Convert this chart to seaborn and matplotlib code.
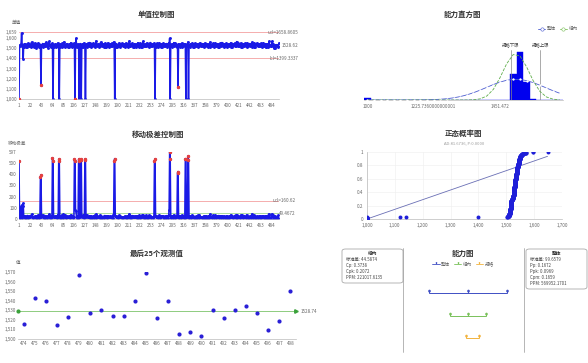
import numpy as np
import matplotlib
matplotlib.use("Agg")
import matplotlib.pyplot as plt
import seaborn as sns
from math import erf, sqrt
from matplotlib.path import Path
from matplotlib.patches import FancyBboxPatch
from matplotlib.lines import Line2D
from matplotlib.ticker import FuncFormatter

# ---- data ----
obs_values = [
    1000, 1519, 1534, 1527, 1541, 1648, 1525, 1512, 1397, 1536, 1516, 1544, 1531, 1508, 1528, 1539, 1516, 1547, 1530, 1518,
    1543, 1526, 1511, 1535, 1559, 1517, 1538, 1529, 1514, 1533, 1549, 1524, 1506, 1532, 1540, 1518, 1527, 1552, 1515, 1537,
    1529, 1515, 1141, 1534, 1518, 1545, 1510, 1530, 1538, 1517, 1526, 1556, 1533, 1519, 1541, 1528, 1504, 1535, 1566, 1524,
    1531, 1513, 1539, 1527, 1546, 1000, 1516, 1534, 1518, 1543, 1529, 1509, 1537, 1525, 1551, 1517, 1532, 1000, 1516, 1540,
    1527, 1535, 1512, 1548, 1530, 1518, 1562, 1526, 1507, 1539, 1533, 1518, 1544, 1529, 1515, 1536, 1514, 1541, 1528, 1553,
    1517, 1534, 1511, 1538, 1525, 1547, 1531, 1000, 1516, 1596, 1529, 1516, 1540, 1527, 1534, 1000, 1519, 1545, 1530, 1000,
    1536, 1515, 1541, 1515, 1550, 1528, 1533, 1000, 1524, 1539, 1510, 1546, 1532, 1518, 1537, 1555, 1526, 1513, 1542, 1529,
    1518, 1535, 1549, 1524, 1531, 1507, 1540, 1570, 1527, 1533, 1517, 1544, 1529, 1514, 1538, 1525, 1558, 1532, 1519, 1536,
    1542, 1528, 1511, 1534, 1547, 1516, 1530, 1516, 1539, 1526, 1552, 1535, 1509, 1527, 1543, 1517, 1531, 1548, 1524, 1537,
    1529, 1561, 1517, 1000, 1538, 1515, 1545, 1530, 1512, 1534, 1526, 1550, 1518, 1540, 1515, 1532, 1546, 1527, 1519, 1536,
    1541, 1525, 1508, 1533, 1549, 1528, 1517, 1543, 1531, 1514, 1537, 1572, 1526, 1518, 1539, 1530, 1547, 1516, 1535, 1511,
    1529, 1544, 1517, 1533, 1516, 1540, 1527, 1553, 1524, 1531, 1513, 1546, 1535, 1516, 1538, 1509, 1528, 1567, 1532, 1519,
    1542, 1526, 1534, 1517, 1550, 1529, 1518, 1537, 1544, 1512, 1530, 1555, 1524, 1536, 1519, 1541, 1527, 1533, 1548, 1517,
    1000, 1535, 1515, 1546, 1529, 1514, 1539, 1531, 1552, 1518, 1527, 1543, 1516, 1536, 1510, 1534, 1548, 1525, 1530, 1540,
    1517, 1532, 1545, 1515, 1538, 1528, 1551, 1519, 1597, 1000, 1534, 1526, 1542, 1513, 1537, 1529, 1554, 1518, 1533, 1546,
    1524, 1539, 1516, 1531, 1120, 1543, 1528, 1535, 1511, 1540, 1527, 1549, 1516, 1534, 1518, 1545, 1530, 1525, 1538, 1000,
    1533, 1517, 1544, 1561, 1000, 1529, 1536, 1514, 1541, 1527, 1532, 1550, 1515, 1538, 1516, 1534, 1547, 1526, 1519, 1542,
    1530, 1537, 1512, 1545, 1528, 1518, 1553, 1533, 1518, 1539, 1526, 1544, 1531, 1509, 1536, 1549, 1524, 1532, 1541, 1517,
    1538, 1527, 1515, 1543, 1530, 1558, 1516, 1535, 1517, 1540, 1529, 1546, 1513, 1533, 1525, 1551, 1517, 1537, 1528, 1544,
    1515, 1536, 1510, 1541, 1532, 1548, 1519, 1530, 1555, 1526, 1534, 1516, 1543, 1529, 1518, 1539, 1547, 1524, 1512, 1535,
    1540, 1527, 1519, 1545, 1531, 1553, 1516, 1536, 1514, 1542, 1528, 1533, 1549, 1518, 1537, 1525, 1564, 1530, 1518, 1546,
    1532, 1517, 1539, 1527, 1550, 1515, 1535, 1511, 1544, 1529, 1536, 1517, 1547, 1526, 1533, 1515, 1552, 1531, 1524, 1540,
    1528, 1545, 1519, 1537, 1530, 1557, 1513, 1534, 1541, 1516, 1548, 1527, 1516, 1539, 1532, 1550, 1525, 1536, 1518, 1543,
    1529, 1518, 1546, 1534, 1512, 1540, 1526, 1553, 1530, 1517, 1538, 1544, 1515,
]
last25_values = [1515.6, 1543.0, 1540.0, 1515.0, 1523.0, 1567.0, 1527.0, 1530.0, 1524.0, 1524.0,
                 1540.0, 1569.0, 1522.0, 1540.0, 1505.5, 1507.6, 1503.5, 1530.0, 1522.0, 1530.0,
                 1535.0, 1527.0, 1509.7, 1518.7, 1550.0]
last25_labels = [str(i) for i in range(474, 499)]
red_points = [1, 43, 108, 305]

i_ucl, i_cl, i_lcl = 1658.8605, 1528.62, 1399.3337
i_top_label = "1,659"
mr_ucl, mr_cl = 160.62, 49.4672

hist_start, hist_width, hist_bins = 1000.0, 22.5736, 30
hist_tick_labels = ["1000", "1225.7360000000001", "1451.472"]
lsl, usl = 1500.0, 1600.0
sigma_within, sigma_overall = 44.5874, 99.6579
ad_text = "AD:81.6736, P:0.0000"

within_lines = ["标准差: 44.5874", "Cp: 0.3738", "Cpk: 0.2072", "PPM: 221017.6135"]
overall_lines = ["标准差: 99.6579", "Pp: 0.1672", "Ppk: 0.0969", "Cpm: 0.1659", "PPM: 569952.1701"]

# ---- setup ----
sns.set_theme(style="white")
plt.rcParams['font.family'] = ['Noto Sans CJK SC', 'DejaVu Sans']

W, H = 588, 363
fig = plt.figure(figsize=(W / 100, H / 100), dpi=100)

BLUE = '#1a1ae6'
RED = '#e8413c'
GREY = '#666666'
TICK = 3.3


def px_axes(x0, y0, x1, y1):
    return fig.add_axes([x0 / W, 1 - y1 / H, (x1 - x0) / W, (y1 - y0) / H])


def ftext(x, y, s, **kw):
    kw.setdefault('fontsize', TICK)
    kw.setdefault('color', GREY)
    kw.setdefault('ha', 'center')
    kw.setdefault('va', 'center')
    return fig.text(x / W, 1 - y / H, s, **kw)


def title(x, y, s):
    ftext(x, y, s, fontsize=5.4, color='#333333', fontweight='bold')


def echarts_style(ax, left_line=False):
    for s in ['top', 'right']:
        ax.spines[s].set_visible(False)
    ax.spines['left'].set_visible(left_line)
    for s in ['bottom', 'left']:
        ax.spines[s].set_color('#bbbbbb')
        ax.spines[s].set_linewidth(0.5)
    ax.tick_params(labelsize=TICK, colors=GREY, length=1.2, width=0.4, pad=1.5)
    ax.tick_params(axis='y', length=0 if not left_line else 1.2)
    ax.set_xlabel('')
    ax.set_ylabel('')
    ax.set_facecolor('none')


thousands = FuncFormatter(lambda v, p: f"{v:,.0f}")

individual = np.array(obs_values + last25_values, dtype=float)
n_total = len(individual)
index = np.arange(1, n_total + 1)
mr = np.abs(np.diff(individual))
mr_index = index[:-1]
cat_ticks = list(range(1, 485, 21))

# ---- 1. 单值控制图 ----
ax1 = px_axes(19, 32, 279, 99)
ax1.axhline(i_ucl, color='#f4a0a0', lw=0.6)
ax1.axhline(i_lcl, color='#f4a0a0', lw=0.6)
ax1.axhline(i_cl, color='#9fd58f', lw=0.6)
sns.lineplot(x=index, y=individual, ax=ax1, color=BLUE, lw=1.15, marker='o',
             markersize=2.1, markeredgewidth=0, sort=False, estimator=None)
red_idx = np.array(red_points)
sns.scatterplot(x=red_idx, y=individual[red_idx - 1], ax=ax1, color=RED, s=6, linewidth=0, zorder=5)
ax1.set_xlim(1, n_total)
ax1.set_ylim(1000, i_ucl)
ax1.set_xticks(cat_ticks)
ax1.set_yticks([1000, 1100, 1200, 1300, 1400, 1500, 1600, i_ucl])
ax1.set_yticklabels(["1,000", "1,100", "1,200", "1,300", "1,400", "1,500", "1,600", i_top_label])
echarts_style(ax1)
for val, lab in [(i_ucl, f"ucl={i_ucl}"), (i_cl, f"{i_cl}"), (i_lcl, f"lcl={i_lcl}")]:
    ax1.annotate(lab, xy=(1, val), xycoords=('axes fraction', 'data'), xytext=(14, 0),
                 textcoords='offset points', fontsize=TICK, color=GREY, ha='right', va='center',
                 annotation_clip=False)
title(156, 14, "单值控制图")
ftext(16, 23, "单值")

# ---- 3. 移动极差控制图 ----
ax3 = px_axes(19, 152, 279, 219)
ax3.axhline(mr_ucl, color='#f4a0a0', lw=0.6)
ax3.axhline(mr_cl, color='#9fd58f', lw=0.6)
sns.lineplot(x=mr_index, y=mr, ax=ax3, color=BLUE, lw=1.15, marker='o',
             markersize=2.1, markeredgewidth=0, sort=False, estimator=None)
hi = mr > mr_ucl
sns.scatterplot(x=mr_index[hi], y=mr[hi], ax=ax3, color=RED, s=6, linewidth=0, zorder=5)
ax3.set_xlim(1, n_total)
mr_max = mr.max()
ax3.set_ylim(0, mr_max)
ax3.set_xticks(cat_ticks)
ax3.set_yticks([0, 100, 200, 300, 400, 500, mr_max])
ax3.set_yticklabels(["0", "100", "200", "300", "400", "500", f"{mr_max:.0f}"])
echarts_style(ax3)
for val, lab in [(mr_ucl, f"ucl={mr_ucl}"), (mr_cl, f"{mr_cl}")]:
    ax3.annotate(lab, xy=(1, val), xycoords=('axes fraction', 'data'), xytext=(12, 0),
                 textcoords='offset points', fontsize=TICK, color=GREY, ha='right', va='center',
                 annotation_clip=False)
title(158, 134, "移动极差控制图")
ftext(17, 143, "移动极差")

# ---- 5. 最后25个观测值 ----
ax5 = px_axes(18, 272, 296, 339)
pos = np.arange(len(last25_values))
avg25 = float(np.mean(last25_values))
ax5.plot([-0.5, len(pos) - 0.5], [avg25, avg25], color='#7cc46a', lw=0.6)
ax5.plot([-0.5], [avg25], marker='o', color='#3aa13a', markersize=2, clip_on=False)
ax5.plot([len(pos) - 0.5], [avg25], marker='>', color='#3aa13a', markersize=2.5, clip_on=False)
sns.scatterplot(x=pos, y=last25_values, ax=ax5, color='#2a1fd6', s=9, linewidth=0, zorder=5)
ax5.set_xlim(-0.5, len(pos) - 0.5)
ax5.set_ylim(1500, 1570)
ax5.set_yticks(range(1500, 1571, 10))
ax5.yaxis.set_major_formatter(thousands)
ax5.set_xticks(pos)
ax5.set_xticklabels(last25_labels)
ax5.set_xticks(np.arange(-0.5, len(pos)), minor=True)
echarts_style(ax5)
ax5.tick_params(axis='x', which='major', length=0)
ax5.tick_params(axis='x', which='minor', length=1.2, width=0.4, colors='#bbbbbb')
ax5.annotate(f"{avg25:.2f}", xy=(1, avg25), xycoords=('axes fraction', 'data'), xytext=(3, 0),
             textcoords='offset points', fontsize=TICK, color=GREY, ha='left', va='center',
             annotation_clip=False)
title(157, 253, "最后25个观测值")
ftext(18, 263, "值")

# ---- 2. 能力直方图 ----
ax2 = px_axes(364, 50, 563, 100)
edges = hist_start + hist_width * np.arange(hist_bins + 1)
sns.histplot(x=individual, bins=edges, ax=ax2, color='#0000ee', edgecolor='#0000ee',
             alpha=1, linewidth=0.3)
counts, _ = np.histogram(individual, bins=edges)
ax2.set_ylim(0, counts.max() * 1.05)
ax2.set_xlim(edges[0], edges[-1])
centers = (edges[:-1] + edges[1:]) / 2
mean_all = individual.mean()
ax2b = ax2.twinx()


def normal_pdf(x, mu, sd):
    return np.exp(-0.5 * ((x - mu) / sd) ** 2) / (sd * sqrt(2 * np.pi))


pdf_overall = normal_pdf(centers, mean_all, sigma_overall)
pdf_within = normal_pdf(centers, mean_all, sigma_within)
sns.lineplot(x=centers, y=pdf_overall, ax=ax2b, color='#4a5bd0', lw=0.6, marker='o',
             markersize=1.3, markerfacecolor='white', markeredgewidth=0.3)
sns.lineplot(x=centers, y=pdf_within, ax=ax2b, color='#5fae4a', lw=0.6, linestyle='--')
ax2b.set_ylim(0, pdf_within.max() * 1.1)
ax2b.axis('off')
for val, lab in [(lsl, "规格下限"), (usl, "规格上限")]:
    ax2.axvline(val, color='#888888', lw=0.5)
    ax2.annotate(lab, xy=(val, 1), xycoords=('data', 'axes fraction'), xytext=(0, 2),
                 textcoords='offset points', fontsize=3.2, color='#444444', ha='center', va='bottom',
                 annotation_clip=False)
ax2.set_xticks(edges[[0, 10, 20]] + hist_width / 2)
ax2.set_xticklabels(hist_tick_labels)
ax2.set_yticks([])
echarts_style(ax2)
title(462, 14, "能力直方图")
leg_handles = [Line2D([], [], color='#4a5bd0', lw=0.6, marker='o', markersize=2.4,
                      markerfacecolor='white', markeredgewidth=0.4),
               Line2D([], [], color='#7bbf5a', lw=0.6, marker='o', markersize=2.4,
                      markerfacecolor='white', markeredgewidth=0.4)]
fig.legend(leg_handles, ["整体", "组内"], loc='center left', bbox_to_anchor=(534 / W, 1 - 29 / H),
           ncol=2, frameon=False, fontsize=3.3, handlelength=1.6, columnspacing=0.8,
           handletextpad=0.3, labelcolor=GREY)

# ---- 4. 正态概率图 ----
ax4 = px_axes(367, 152, 562, 219)
xs = np.sort(individual)
probs = (np.arange(1, n_total + 1) - 0.3) / (n_total + 0.4)
sd_all = individual.std(ddof=1)
line_x = np.array([xs[0], xs[-1]])
line_y = np.array([0.5 * (1 + erf((v - mean_all) / (sd_all * sqrt(2)))) for v in line_x])
ax4.grid(True, color='#eeeeee', lw=0.4)
sns.lineplot(x=line_x, y=line_y, ax=ax4, color='#6a6fb5', lw=0.6)
sns.scatterplot(x=xs, y=probs, ax=ax4, color='#1f1fd8', s=8, linewidth=0, zorder=5)
ax4.set_xlim(1000, 1700)
ax4.set_ylim(0, 1)
ax4.set_xticks(range(1000, 1701, 100))
ax4.xaxis.set_major_formatter(thousands)
ax4.set_yticks([0, 0.2, 0.4, 0.6, 0.8, 1])
ax4.set_yticklabels(["0", "0.2", "0.4", "0.6", "0.8", "1"])
echarts_style(ax4, left_line=True)
ax4.set_axisbelow(True)
title(463, 133, "正态概率图")
ftext(464, 143, ad_text, fontsize=3.0, color='#999999')

# ---- 6. 能力图 ----
ax6 = px_axes(403, 270.5, 524, 352)
pin = Path.make_compound_path(
    Path.circle((0, 2.0), 1.0),
    Path([(-0.8, 1.4), (0, 0), (0.8, 1.4), (-0.8, 1.4)],
         [Path.MOVETO, Path.LINETO, Path.LINETO, Path.CLOSEPOLY]))
rows = [
    (3, mean_all - 3 * sigma_overall, mean_all, mean_all + 3 * sigma_overall, '#3f4fc4'),
    (2, mean_all - 3 * sigma_within, mean_all, mean_all + 3 * sigma_within, '#79c15a'),
    (1, lsl, None, usl, '#f2b33d'),
]
for level, lo, mid, hi_v, col in rows:
    pts = [p for p in (lo, mid, hi_v) if p is not None]
    sns.lineplot(x=[lo, hi_v], y=[level, level], ax=ax6, color=col, lw=0.7)
    ax6.plot(pts, [level] * len(pts), linestyle='none', marker=pin, markersize=5.5,
             color=col, markeredgewidth=0)
ax6.set_xlim(mean_all - 65 / 0.132, mean_all + 56 / 0.132)
ax6.set_ylim(0.38, 4.0)
ax6.axis('off')
for xline in (403, 524):
    fig.add_artist(Line2D([xline / W, xline / W], [1 - 248 / H, 1 - 352 / H], color='#999999', lw=0.5))
title(463, 253, "能力图")
cap_handles = [Line2D([], [], color=c, lw=0.6, marker=pin, markersize=3.5, markeredgewidth=0)
               for c in ('#3f4fc4', '#79c15a', '#f2b33d')]
fig.legend(cap_handles, ["整体", "组内", "规格"], loc='center', bbox_to_anchor=(463 / W, 1 - 264 / H),
           ncol=3, frameon=False, fontsize=3.3, handlelength=1.6, columnspacing=0.8,
           handletextpad=0.3, labelcolor=GREY)


def stat_box(x0, y0, x1, y1, head, lines):
    box = FancyBboxPatch((x0 / W, 1 - y1 / H), (x1 - x0) / W, (y1 - y0) / H,
                         boxstyle="round,pad=0,rounding_size=0.006", transform=fig.transFigure,
                         facecolor='white', edgecolor='#aaaaaa', lw=0.6)
    fig.add_artist(box)
    ftext((x0 + x1) / 2, y0 + 4.5, head, fontsize=3.4, color='#333333', fontweight='bold')
    for k, s in enumerate(lines):
        ftext(x0 + 4, y0 + 10.5 + 6 * k, s, ha='left', fontsize=3.1, color='#444444')


stat_box(342, 249, 403, 283, "组内", within_lines)
stat_box(526, 249, 587, 289, "整体", overall_lines)

fig.savefig("out.png", dpi=100)
